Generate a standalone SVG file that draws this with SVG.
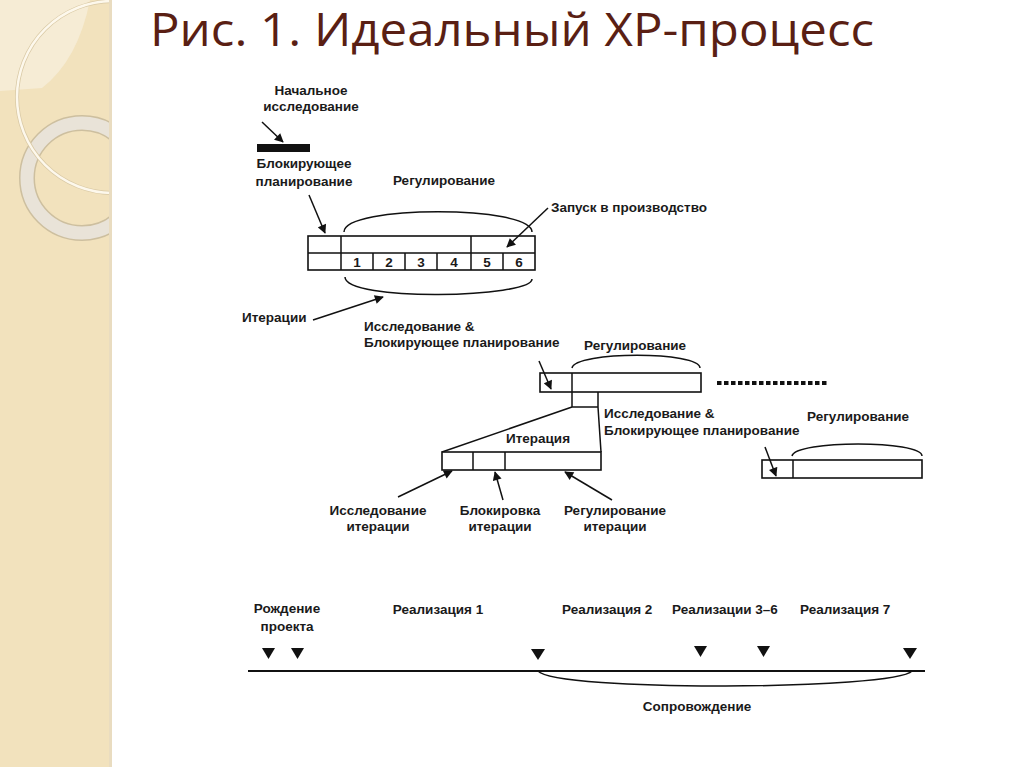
<svg xmlns="http://www.w3.org/2000/svg" width="1024" height="767" viewBox="0 0 1024 767">
<style>
.t{font-family:"Liberation Sans",Arial,sans-serif;font-size:13.5px;font-weight:bold;fill:#1a1a1a}
.m{text-anchor:middle}
.n{font-weight:bold;text-anchor:middle}
.ln{fill:none;stroke:#111;stroke-width:1.5}
.bx{fill:#fff;stroke:#111;stroke-width:1.6}
.tri{fill:#111}
</style>
<defs>
<marker id="ah" viewBox="0 0 10 10" refX="9" refY="5" markerWidth="10" markerHeight="9" markerUnits="userSpaceOnUse" orient="auto">
<path d="M0,0 L10,5 L0,10 Z" fill="#111"/>
</marker>
<clipPath id="strip"><rect x="0" y="0" width="112" height="767"/></clipPath>
</defs>
<rect width="1024" height="767" fill="#fff"/>
<g id="background" clip-path="url(#strip)">
<rect x="0" y="0" width="112" height="767" fill="#f2e2bd"/>
<path d="M0,0 L90,0 Q78,60 42,88 L0,91 Z" fill="#f6ecd5"/>
<circle cx="82" cy="178" r="55" fill="none" stroke="#cdbf9f" stroke-width="16"/>
<circle cx="82" cy="178" r="55" fill="none" stroke="#e9e3d8" stroke-width="13"/>
<circle cx="113" cy="97" r="96" fill="none" stroke="#d9c9a5" stroke-width="4"/>
<circle cx="113" cy="97" r="96" fill="none" stroke="#fdf8ec" stroke-width="2.5"/>
<rect x="109" y="0" width="3" height="767" fill="#e9dcc0"/>
</g>
<text x="150" y="46" font-family="'Open Sans','Liberation Sans',sans-serif" font-size="45" fill="#5a1f14" textLength="724" lengthAdjust="spacingAndGlyphs">Рис. 1. Идеальный XP-процесс</text>

<g id="initial-research">
<text class="t m" x="311" y="95">Начальное</text>
<text class="t m" x="311" y="111">исследование</text>
<rect x="257" y="144" width="53" height="8" fill="#111"/>
</g>
<g id="blocking-planning">
<text class="t m" x="304" y="168">Блокирующее</text>
<text class="t m" x="304" y="186">планирование</text>
</g>
<g id="release-plan">
<text class="t m" x="444" y="185">Регулирование</text>
<path class="ln" d="M344,232 C344,205 532,205 532,232"/>
<rect class="bx" x="308" y="236" width="227" height="34"/>
<path class="ln" d="M308,253 H535 M341,236 V270 M471,236 V270 M373,253 V270 M405,253 V270 M437,253 V270 M503,253 V270"/>
<text class="t n" x="357" y="267">1</text>
<text class="t n" x="389" y="267">2</text>
<text class="t n" x="421" y="267">3</text>
<text class="t n" x="454" y="267">4</text>
<text class="t n" x="487" y="267">5</text>
<text class="t n" x="519" y="267">6</text>
<path class="ln" d="M345,277 C345,302 532,298 532,279"/>
<text class="t" x="551" y="212">Запуск в производство</text>
<text class="t" x="242" y="322">Итерации</text>
</g>
<g id="release">
<text class="t" x="364" y="331">Исследование &amp;</text>
<text class="t" x="364" y="347">Блокирующее планирование</text>
<text class="t" x="584" y="350">Регулирование</text>
<path class="ln" d="M572,368 C575,351 700,351 700,368"/>
<rect class="bx" x="540" y="373" width="161" height="19"/>
<path class="ln" d="M572,373 V392"/>
<line x1="717" y1="383" x2="828" y2="383" stroke="#111" stroke-width="4" stroke-dasharray="4.5,2.5"/>
</g>
<g id="iteration">
<path class="ln" d="M572,392 V407 H598 V392 M572,407 L442,452 M598,407 L601,452"/>
<text class="t m" x="538" y="443">Итерация</text>
<rect class="bx" x="442" y="452" width="159" height="18"/>
<path class="ln" d="M473,452 V470 M505,452 V470"/>
</g>
<g id="next-release">
<text class="t" x="604" y="418">Исследование &amp;</text>
<text class="t" x="604" y="435">Блокирующее планирование</text>
<text class="t" x="807" y="421">Регулирование</text>
<path class="ln" d="M792,456 C795,440 922,440 922,456"/>
<rect class="bx" x="762" y="460" width="160" height="18"/>
<path class="ln" d="M793,460 V478"/>
</g>
<g id="iteration-labels">
<text class="t m" x="378" y="515">Исследование</text>
<text class="t m" x="378" y="531">итерации</text>
<text class="t m" x="500" y="515">Блокировка</text>
<text class="t m" x="500" y="531">итерации</text>
<text class="t m" x="615" y="515">Регулирование</text>
<text class="t m" x="615" y="531">итерации</text>
</g>
<g id="timeline">
<text class="t m" x="287" y="613">Рождение</text>
<text class="t m" x="287" y="631">проекта</text>
<text class="t m" x="438" y="614">Реализация 1</text>
<text class="t" x="562" y="614">Реализация 2</text>
<text class="t" x="672" y="614">Реализации 3–6</text>
<text class="t" x="800" y="614">Реализация 7</text>
<path class="tri" d="M262,648 H275 L268.5,659 Z"/>
<path class="tri" d="M291,648 H304 L297.5,659 Z"/>
<path class="tri" d="M531,649 H545 L538,660 Z"/>
<path class="tri" d="M694,646 H707 L700.5,657 Z"/>
<path class="tri" d="M757,646 H770 L763.5,657 Z"/>
<path class="tri" d="M903,648 H917 L910,659 Z"/>
<line x1="248" y1="671" x2="925" y2="671" stroke="#111" stroke-width="2"/>
<path class="ln" d="M538,671 C556,692 895,690 912,671"/>
<text class="t m" x="697" y="711">Сопровождение</text>
</g>
<g id="connectors">
<line class="ln" x1="262" y1="122" x2="283" y2="142" marker-end="url(#ah)"/>
<line class="ln" x1="309" y1="195" x2="325" y2="233" marker-end="url(#ah)"/>
<line class="ln" x1="548" y1="208" x2="507" y2="247" marker-end="url(#ah)"/>
<line class="ln" x1="313" y1="320" x2="383" y2="297" marker-end="url(#ah)"/>
<line class="ln" x1="539" y1="361" x2="551" y2="389" marker-end="url(#ah)"/>
<line class="ln" x1="765" y1="447" x2="776" y2="476" marker-end="url(#ah)"/>
<line class="ln" x1="398" y1="497" x2="452" y2="471" marker-end="url(#ah)"/>
<line class="ln" x1="503" y1="500" x2="495" y2="472" marker-end="url(#ah)"/>
<line class="ln" x1="612" y1="500" x2="565" y2="472" marker-end="url(#ah)"/>
</g>
</svg>
